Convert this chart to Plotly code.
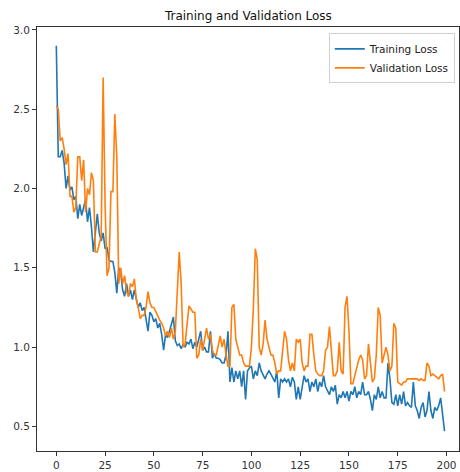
import plotly.graph_objects as go

epochs = list(range(200))

training_loss = [
    2.90, 2.20, 2.20, 2.24, 2.16, 2.00, 2.08, 1.99, 2.01, 1.93,
    1.95, 1.81, 1.90, 1.83, 1.88, 1.93, 1.79, 1.88, 1.76, 1.60,
    1.72, 1.84, 1.72, 1.67, 1.72, 1.62, 1.63, 1.55, 1.54, 1.54,
    1.47, 1.34, 1.50, 1.47, 1.36, 1.32, 1.40, 1.32, 1.36, 1.30,
    1.36, 1.30, 1.25, 1.28, 1.23, 1.25, 1.17, 1.10, 1.22, 1.20,
    1.16, 1.18, 1.12, 1.15, 1.08, 0.98, 1.08, 1.06, 1.10, 1.15,
    1.19, 1.04, 1.01, 1.02, 0.99, 1.02, 1.00, 1.03, 1.02, 1.05,
    0.99, 1.03, 1.00, 1.05, 1.10, 0.98, 1.00, 0.97, 0.97, 1.10,
    0.93, 0.96, 0.93, 0.93, 0.92, 0.90, 0.90, 0.95, 1.10, 0.78,
    0.87, 0.78, 0.85, 0.80, 0.85, 0.75, 0.85, 0.67, 0.85, 0.87,
    0.88, 0.80, 0.85, 0.82, 0.90, 0.85, 0.82, 0.80, 0.83, 0.85,
    0.83, 0.80, 0.78, 0.85, 0.68, 0.80, 0.78, 0.80, 0.78, 0.80,
    0.75, 0.81, 0.78, 0.67, 0.75, 0.67, 0.75, 0.82, 0.78, 0.80,
    0.72, 0.78, 0.75, 0.80, 0.72, 0.78, 0.75, 0.82, 0.75, 0.72,
    0.70, 0.75, 0.72, 0.76, 0.64, 0.70, 0.68, 0.72, 0.68, 0.72,
    0.66, 0.72, 0.70, 0.75, 0.68, 0.72, 0.70, 0.78, 0.70, 0.70,
    0.72, 0.67, 0.60, 0.70, 0.67, 0.75, 0.68, 0.72, 0.68, 0.68,
    0.90, 0.80, 0.65, 0.64, 0.70, 0.63, 0.70, 0.64, 0.72, 0.63,
    0.65, 0.63, 0.62, 0.78, 0.63, 0.60, 0.55, 0.62, 0.65, 0.56,
    0.60, 0.72, 0.60, 0.55, 0.62, 0.60, 0.63, 0.68, 0.58, 0.47,
]

validation_loss = [
    2.52, 2.50, 2.30, 2.32, 2.25, 2.15, 2.22, 1.95, 1.95, 1.85,
    1.88, 2.20, 2.20, 2.05, 2.18, 1.85, 2.00, 1.96, 2.10, 2.05,
    1.60, 1.60, 1.65, 1.70, 2.70, 1.90, 1.45, 1.50, 1.98, 1.98,
    2.47, 2.20, 1.40, 1.50, 1.40, 1.45, 1.35, 1.32, 1.40, 1.38,
    1.43, 1.30, 1.25, 1.18, 1.20, 1.20, 1.25, 1.35, 1.28, 1.25,
    1.25, 1.22, 1.20, 1.17, 1.15, 1.12, 1.07, 1.10, 1.06, 1.12,
    1.05, 1.10, 1.35, 1.60, 1.40, 1.00, 1.02, 1.15, 1.26, 1.24,
    1.22, 1.22, 0.93, 0.95, 1.05, 0.98, 1.05, 1.12, 1.05, 1.08,
    0.98, 0.95, 0.95, 1.02, 1.07, 1.00, 1.05, 0.95, 0.88, 0.88,
    1.25, 1.27, 1.05, 1.00, 0.95, 0.95, 0.90, 0.88, 0.88, 0.88,
    1.00, 1.25, 1.62, 1.55, 1.00, 0.95, 1.02, 1.17, 1.05, 1.00,
    0.95, 0.95, 0.90, 0.83, 0.85, 0.85, 1.00, 1.10, 1.05, 0.92,
    0.85, 0.90, 0.85, 1.05, 1.03, 1.05, 0.90, 0.85, 0.88, 0.88,
    1.08, 1.08, 0.95, 0.85, 0.83, 0.82, 0.82, 0.85, 0.98, 1.00,
    1.13, 0.95, 0.82, 0.82, 0.85, 1.03, 0.85, 0.83, 1.25, 1.32,
    1.10, 0.77, 0.77, 0.82, 0.87, 0.92, 0.95, 0.92, 0.80, 0.82,
    1.02, 0.90, 0.78, 0.80, 0.95, 1.25, 1.20, 0.90, 0.95, 1.00,
    0.95, 0.85, 0.88, 1.15, 1.12, 0.78, 0.77, 0.76, 0.78, 0.78,
    0.80, 0.80, 0.80, 0.80, 0.80, 0.80, 0.79, 0.80, 0.79, 0.79,
    0.90, 0.88, 0.82, 0.83, 0.82, 0.81, 0.80, 0.82, 0.83, 0.72,
]

x_ticks = [0, 25, 50, 75, 100, 125, 150, 175, 200]
y_ticks = [0.5, 1.0, 1.5, 2.0, 2.5, 3.0]
y_tick_labels = ["0.5", "1.0", "1.5", "2.0", "2.5", "3.0"]

fig = go.Figure()
fig.add_trace(go.Scatter(x=epochs, y=training_loss, mode="lines", name="Training Loss",
                         line=dict(color="#1f77b4", width=1.6)))
fig.add_trace(go.Scatter(x=epochs, y=validation_loss, mode="lines", name="Validation Loss",
                         line=dict(color="#ff7f0e", width=1.6)))

axis_common = dict(showgrid=False, zeroline=False, showline=True, linecolor="#333333",
                   linewidth=1, mirror=True, ticks="outside", ticklen=4,
                   tickcolor="#333333", tickfont=dict(size=10.5, color="#333333"))

fig.update_layout(
    width=460, height=472,
    margin=dict(l=37, r=1, t=27, b=21),
    paper_bgcolor="white", plot_bgcolor="white",
    font=dict(family="DejaVu Sans", color="#222222"),
    title=dict(text="Training and Validation Loss", x=0.54, xanchor="center",
               y=0.966, yanchor="middle", font=dict(size=12, color="#111111")),
    xaxis=dict(range=[-9.9, 206.4], tickvals=x_ticks, **axis_common),
    yaxis=dict(range=[0.345, 3.018], tickvals=y_ticks, ticktext=y_tick_labels, **axis_common),
    legend=dict(x=0.99, y=0.985, xanchor="right", yanchor="top",
                bgcolor="rgba(255,255,255,0.9)", bordercolor="#d0d0d0", borderwidth=1,
                font=dict(size=10.5, color="#222222"), itemwidth=30,
                tracegroupgap=0),
    showlegend=True,
)

fig.write_html(
    "out.html",
    config={"displayModeBar": False},
    post_script="document.body.style.margin='0';document.body.style.overflow='hidden';",
)
